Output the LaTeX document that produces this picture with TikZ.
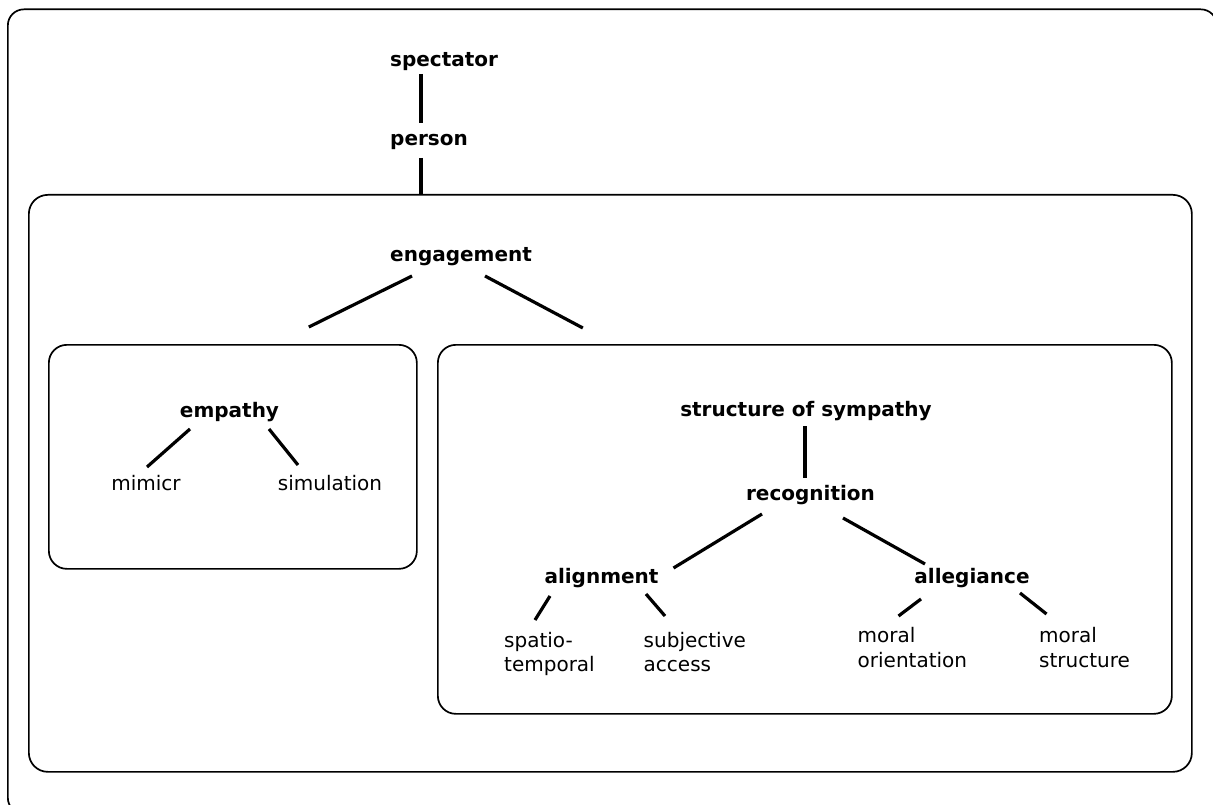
\documentclass[tikz,border=0pt]{standalone}
\usepackage{fontspec}
\setmainfont{DejaVu Sans}
\usetikzlibrary{positioning}

\tikzset{
  box/.style={draw, line width=1.7pt, rounded corners=18pt, anchor=north west, inner sep=0pt},
  head/.style={font=\fontsize{20}{24}\selectfont\bfseries, inner sep=0pt},
  leaf/.style={font=\fontsize{20}{24.5}\selectfont, inner sep=0pt, align=left},
  link/.style={line width=3.2pt},
}

\begin{document}
\begin{tikzpicture}[x=1pt, y=1pt]
        \useasboundingbox (0,0) rectangle (1213,-805);

        % Frames
        \node[box, rounded corners=16pt, minimum width=1209, minimum height=804.5] (outer) at (7,-8.5) {};
        \node[box, rounded corners=19pt, minimum width=1163, minimum height=577] (engbox) at (28,-194) {};
        \node[box, minimum width=368, minimum height=224] (empbox) at (48,-344) {};
        \node[box, minimum width=734, minimum height=369] (symbox) at (437,-344) {};

        % Spectator entity
        \node[head, anchor=base west] (spectator) at (390,-66.7) {spectator};
        \node[head, anchor=base west] (person) at (390,-145.7) {person};
        \node[head, anchor=base west] (engagement) at (390,-261.7) {engagement};

        \draw[link] ([shift={(31,-7.3)}]spectator.base west) -- ([shift={(31,23)}]person.base west);
        \draw[link] ([shift={(31,-12.3)}]person.base west) -- ([shift={(31,-48.3)}]person.base west);
        \draw[link] ([shift={(22,-14.3)}]engagement.base west) -- ([shift={(76,17)}]empbox.north);
        \draw[link] ([shift={(95,-14.3)}]engagement.base west) -- ([shift={(-222,16)}]symbox.north);

        % Empathy
        \node[head, anchor=base] (empathy) at (229.5,-417) {empathy};
        \node[leaf, anchor=base] (mimicr) at (146,-490.7) {mimicr};
        \node[leaf, anchor=base] (simulation) at (330,-490.7) {simulation};

        \draw[link] ([shift={(-39.5,-12)}]empathy.base) -- ([shift={(1,23.7)}]mimicr.base);
        \draw[link] ([shift={(39.5,-12)}]empathy.base) -- ([shift={(-32,25.7)}]simulation.base);

        % Structure of sympathy
        \node[head, anchor=base] (sympathy) at (806,-416.7) {structure of sympathy};
        \node[head, anchor=base] (recognition) at (810.5,-500) {recognition};
        \node[head, anchor=base] (alignment) at (601.5,-583) {alignment};
        \node[head, anchor=base] (allegiance) at (972,-583) {allegiance};

        \node[leaf, anchor=base west] (spatio) at (504,-671.7) {spatio-\\temporal};
        \node[leaf, anchor=base west] (subjective) at (643.5,-671.7) {subjective\\access};
        \node[leaf, anchor=base west] (orientation) at (857.5,-667) {moral\\orientation};
        \node[leaf, anchor=base west] (moralstr) at (1039,-667) {moral\\structure};

        \draw[link] ([shift={(-1,-9.3)}]sympathy.base) -- ([shift={(-5.5,22)}]recognition.base);
        \draw[link] ([shift={(-48.5,-14)}]recognition.base) -- ([shift={(72,15)}]alignment.base);
        \draw[link] ([shift={(32.5,-18)}]recognition.base) -- ([shift={(-47,19)}]allegiance.base);

        \draw[link] ([shift={(-51.5,-13)}]alignment.base) -- ([shift={(31,51.7)}]spatio.base west);
        \draw[link] ([shift={(44.5,-11)}]alignment.base) -- ([shift={(21.5,55.7)}]subjective.base west);
        \draw[link] ([shift={(-51,-16)}]allegiance.base) -- ([shift={(41,51)}]orientation.base west);
        \draw[link] ([shift={(48,-10)}]allegiance.base) -- ([shift={(7.5,53)}]moralstr.base west);
\end{tikzpicture}
\end{document}
